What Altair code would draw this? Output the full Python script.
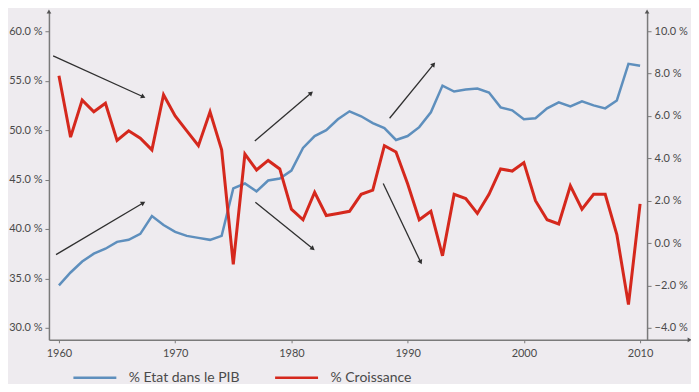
import math
import altair as alt
import pandas as pd

# ---------------- data ----------------
years = list(range(1960, 2011))
etat = [34.3, 35.6, 36.7, 37.5, 38.0, 38.7, 38.9, 39.5, 41.3, 40.4,
        39.7, 39.3, 39.1, 38.9, 39.3, 44.1, 44.6, 43.8, 44.9, 45.1,
        45.9, 48.2, 49.4, 50.0, 51.1, 51.9, 51.4, 50.7, 50.2, 49.0,
        49.4, 50.3, 51.8, 54.5, 53.9, 54.1, 54.2, 53.8, 52.3, 52.0,
        51.1, 51.2, 52.2, 52.8, 52.4, 52.9, 52.5, 52.2, 53.0, 56.7,
        56.5]
croissance = [7.9, 5.0, 6.75, 6.2, 6.6, 4.85, 5.3, 4.95, 4.4, 7.0,
              6.0, 5.3, 4.6, 6.2, 4.4, -1.0, 4.2, 3.45, 3.9, 3.5,
              1.6, 1.1, 2.4, 1.3, 1.4, 1.5, 2.3, 2.5, 4.6, 4.3,
              2.8, 1.1, 1.5, -0.6, 2.3, 2.1, 1.4, 2.3, 3.5, 3.4,
              3.8, 2.0, 1.1, 0.9, 2.7, 1.6, 2.3, 2.3, 0.4, -2.9,
              1.85]
series_names = ["% Etat dans le PIB", "% Croissance"]
series_colors = ["#5e8fbd", "#d5281d"]

# annotation arrows (year, left-axis %) start -> end
arrow_x0 = [1959.5, 1959.75, 1976.85, 1976.9, 1988.45, 1987.9]
arrow_y0 = [57.5, 37.4, 48.9, 42.7, 51.2, 44.6]
arrow_x1 = [1967.2, 1967.2, 1981.65, 1981.8, 1992.2, 1991.1]
arrow_y1 = [53.4, 42.6, 53.7, 38.05, 56.6, 36.7]

left_ticks = [30, 35, 40, 45, 50, 55, 60]
right_ticks = [-4, -2, 0, 2, 4, 6, 8, 10]
x_ticks = [1960, 1970, 1980, 1990, 2000, 2010]

# ---------------- layout ----------------
W, H = 641, 328
X0, X1 = 1959.14, 1959.14 + W / 11.64
YL = [28.79, 61.92]
YR = [-4.566, 10.896]
RIGHT_AXIS_OFFSET = -42
FONT = "Lato"
TXT = "#4a4a4a"
AX = "#7a7a7a"

sx = W / (X1 - X0)
sy = H / (YL[1] - YL[0])

df = pd.DataFrame({"year": years, "etat": etat, "croissance": croissance})

angles = []
for a, b, c, d in zip(arrow_x0, arrow_y0, arrow_x1, arrow_y1):
    dx = (c - a) * sx
    dy = -(d - b) * sy
    angles.append(math.degrees(math.atan2(dx, -dy)) % 360)
arrows = pd.DataFrame({"x0": arrow_x0, "y0": arrow_y0, "x1": arrow_x1,
                       "y1": arrow_y1, "ang": angles})

xscale = alt.Scale(domain=[X0, X1], nice=False, zero=False)
yl_scale = alt.Scale(domain=YL, nice=False, zero=False)
yr_scale = alt.Scale(domain=YR, nice=False, zero=False)
cscale = alt.Scale(domain=series_names, range=series_colors)

x_axis = alt.Axis(
    values=x_ticks, format="d", title=None, grid=False,
    domainColor=AX, domainWidth=1.5, tickColor=AX, tickSize=3,
    labelColor=TXT, labelFont=FONT, labelFontSize=11, labelPadding=5)

left_axis = alt.Axis(
    values=left_ticks, title=None, grid=False,
    labelExpr="format(datum.value, '.1f') + ' %'",
    domainColor=AX, domainWidth=1.5, tickColor=AX, tickSize=4,
    labelColor=TXT, labelFont=FONT, labelFontSize=11, labelPadding=3)

right_axis = alt.Axis(
    orient="right", offset=RIGHT_AXIS_OFFSET, values=right_ticks, title=None,
    grid=False, labelExpr="format(datum.value, '.1f') + ' %'",
    domainColor=AX, domainWidth=1.5, tickColor=AX, tickSize=4,
    labelColor=TXT, labelFont=FONT, labelFontSize=11, labelPadding=3)

legend = alt.Legend(
    title=None, orient="none", direction="horizontal", legendX=23, legendY=343,
    symbolType="stroke", symbolSize=1849, symbolStrokeWidth=2.5,
    labelFont=FONT, labelFontSize=14, labelColor=TXT, labelOffset=11,
    columnPadding=30, padding=0)

blue = alt.Chart(df).mark_line(strokeWidth=2.5).encode(
    x=alt.X("year:Q", scale=xscale, axis=x_axis),
    y=alt.Y("etat:Q", scale=yl_scale, axis=left_axis),
    color=alt.Color("s:N", scale=cscale, legend=legend),
).transform_calculate(s="'% Etat dans le PIB'")

red = alt.Chart(df).mark_line(strokeWidth=3).encode(
    x=alt.X("year:Q", scale=xscale, axis=x_axis),
    y=alt.Y("croissance:Q", scale=yr_scale, axis=right_axis),
    color=alt.Color("s:N", scale=cscale, legend=legend),
).transform_calculate(s="'% Croissance'")

arrow_lines = alt.Chart(arrows).mark_rule(color="#2f2f2f", strokeWidth=1.3).encode(
    x=alt.X("x0:Q", scale=xscale, axis=x_axis),
    y=alt.Y("y0:Q", scale=yl_scale, axis=left_axis),
    x2="x1:Q", y2="y1:Q")

arrow_heads = alt.Chart(arrows).mark_point(
    shape="triangle", filled=True, color="#2f2f2f", size=28, opacity=1).encode(
    x=alt.X("x1:Q", scale=xscale, axis=x_axis),
    y=alt.Y("y1:Q", scale=yl_scale, axis=left_axis),
    angle=alt.Angle("ang:Q", scale=None))

# axis arrowheads (at the ends of the axis lines)
right_axis_year = X1 + RIGHT_AXIS_OFFSET / sx
axis_tips = pd.DataFrame({
    "x": [X0, right_axis_year, X1],
    "y": [YL[1], YL[1], YL[0]],
    "ang": [0, 0, 90],
})
axis_heads = alt.Chart(axis_tips).mark_point(
    shape="triangle", filled=True, color="#555555", size=22, opacity=1).encode(
    x=alt.X("x:Q", scale=xscale, axis=x_axis),
    y=alt.Y("y:Q", scale=yl_scale, axis=left_axis),
    angle=alt.Angle("ang:Q", scale=None))

left_group = alt.layer(blue, arrow_lines, arrow_heads, axis_heads)

chart = alt.layer(left_group, red).resolve_scale(y="independent").properties(
    width=W, height=H,
    autosize=alt.AutoSizeParams(type="none"),
    padding={"left": 41, "top": 4, "right": 2, "bottom": 44},
    background="#eeebef",
).configure_view(stroke=None)

chart.save("out.html", embed_options={"renderer": "svg", "actions": False})
